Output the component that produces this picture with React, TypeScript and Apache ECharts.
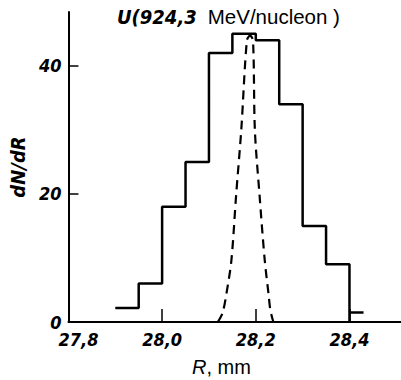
import React, { useEffect, useRef } from "react";
import * as echarts from "echarts";

const binEdges = [27.9, 27.95, 28.0, 28.05, 28.1, 28.15, 28.2, 28.25, 28.3, 28.35, 28.4];
const binCounts = [2.2, 6, 18, 25, 42, 45, 44, 34, 15, 9];
const tailStart = 28.4;
const tailEnd = 28.43;
const tailValue = 1.5;

const curveR = [28.119, 28.129, 28.1375, 28.148, 28.158, 28.169, 28.181, 28.1875, 28.194, 28.198, 28.208, 28.219, 28.227, 28.231, 28.2375];
const curveN = [0, 1.4, 4.5, 9.7, 19.8, 30, 44, 44.7, 44, 30, 19.8, 9.7, 4.5, 1.9, 0];

const xTicks = [27.8, 28.0, 28.2, 28.4];
const yTicks = [0, 20, 40];

const NUM_FONT = "'DejaVu Sans Condensed', 'Liberation Sans Narrow', 'Liberation Sans', Arial, sans-serif";
const SANS = "'Liberation Sans', Arial, sans-serif";

export default function App() {
  const ref = useRef<HTMLDivElement>(null);
  useEffect(() => {
    if (!ref.current) return;
    const chart = echarts.init(ref.current, undefined, { renderer: "svg" });

    const histPts: number[][] = [];
    binCounts.forEach((c, i) => {
      histPts.push([binEdges[i], c]);
      histPts.push([binEdges[i + 1], c]);
    });
    histPts.push([binEdges[binEdges.length - 1], 0]);
    const tailPts = [[tailStart, tailValue], [tailEnd, tailValue]];
    const curvePts = curveR.map((r, i) => [r, curveN[i]]);

    chart.setOption({
      animation: false,
      backgroundColor: "#fff",
      grid: { left: 61, right: 0, top: 12, bottom: 58, containLabel: false },
      xAxis: {
        type: "value",
        min: 27.8,
        max: 28.51,
        interval: 0.2,
        axisLine: { show: true, lineStyle: { color: "#000", width: 2 } },
        axisTick: { show: true, inside: true, length: 13, lineStyle: { color: "#000", width: 1.5 }, customValues: xTicks },
        splitLine: { show: false },
        axisLabel: {
          customValues: xTicks,
          color: "#000",
          fontSize: 18,
          fontStyle: "italic",
          fontWeight: "bold",
          fontFamily: NUM_FONT,
          margin: 8,
          formatter: (v: number) => {
            const s = v.toFixed(1).replace(".", ",");
            return Math.abs(v - 27.8) < 1e-6 ? "{a|" + s + "}" : s;
          },
          rich: {
            a: { fontSize: 18, fontStyle: "italic", fontWeight: "bold", fontFamily: NUM_FONT, color: "#000", padding: [0, 0, 0, 20] },
          },
        },
      },
      yAxis: {
        type: "value",
        min: 0,
        max: 48.4,
        interval: 20,
        axisLine: { show: true, lineStyle: { color: "#000", width: 2 } },
        axisTick: { show: true, inside: true, length: 10, lineStyle: { color: "#000", width: 1.5 }, customValues: yTicks },
        splitLine: { show: false },
        axisLabel: {
          customValues: yTicks,
          color: "#000",
          fontSize: 18,
          fontStyle: "italic",
          fontWeight: "bold",
          fontFamily: NUM_FONT,
          margin: 7,
        },
        name: "dN/dR",
        nameLocation: "middle",
        nameGap: 40,
        nameRotate: 90,
        nameTextStyle: { color: "#000", fontSize: 20, fontStyle: "italic", fontWeight: "bold", fontFamily: NUM_FONT },
      },
      graphic: [
        {
          type: "text",
          left: 117,
          top: 6,
          style: {
            text: "{i|U(924,3}{n|MeV/nucleon )}",
            rich: {
              i: { fontSize: 20, fontStyle: "italic", fontWeight: "bold", fontFamily: NUM_FONT, fill: "#000" },
              n: { fontSize: 20.5, fontFamily: SANS, fill: "#000", padding: [0, 0, 0, 11] },
            },
          },
        },
        {
          type: "text",
          left: 192,
          top: 357,
          style: {
            text: "{i|R}{n|, mm}",
            rich: {
              i: { fontSize: 20, fontStyle: "italic", fontFamily: SANS, fill: "#000" },
              n: { fontSize: 20, fontFamily: SANS, fill: "#000" },
            },
          },
        },
      ],
      series: [
        {
          type: "line",
          data: histPts,
          symbol: "none",
          lineStyle: { color: "#000", width: 2.5 },
        },
        {
          type: "line",
          data: tailPts,
          symbol: "none",
          lineStyle: { color: "#000", width: 2.5 },
        },
        {
          type: "line",
          data: curvePts,
          symbol: "none",
          smooth: 0.3,
          lineStyle: { color: "#000", width: 2.2, type: [9, 6] },
        },
      ],
    });
    return () => chart.dispose();
  }, []);
  return (
    <div
      ref={ref}
      style={{ position: "fixed", left: 0, top: 0, width: 401, height: 380, background: "#fff" }}
    />
  );
}
